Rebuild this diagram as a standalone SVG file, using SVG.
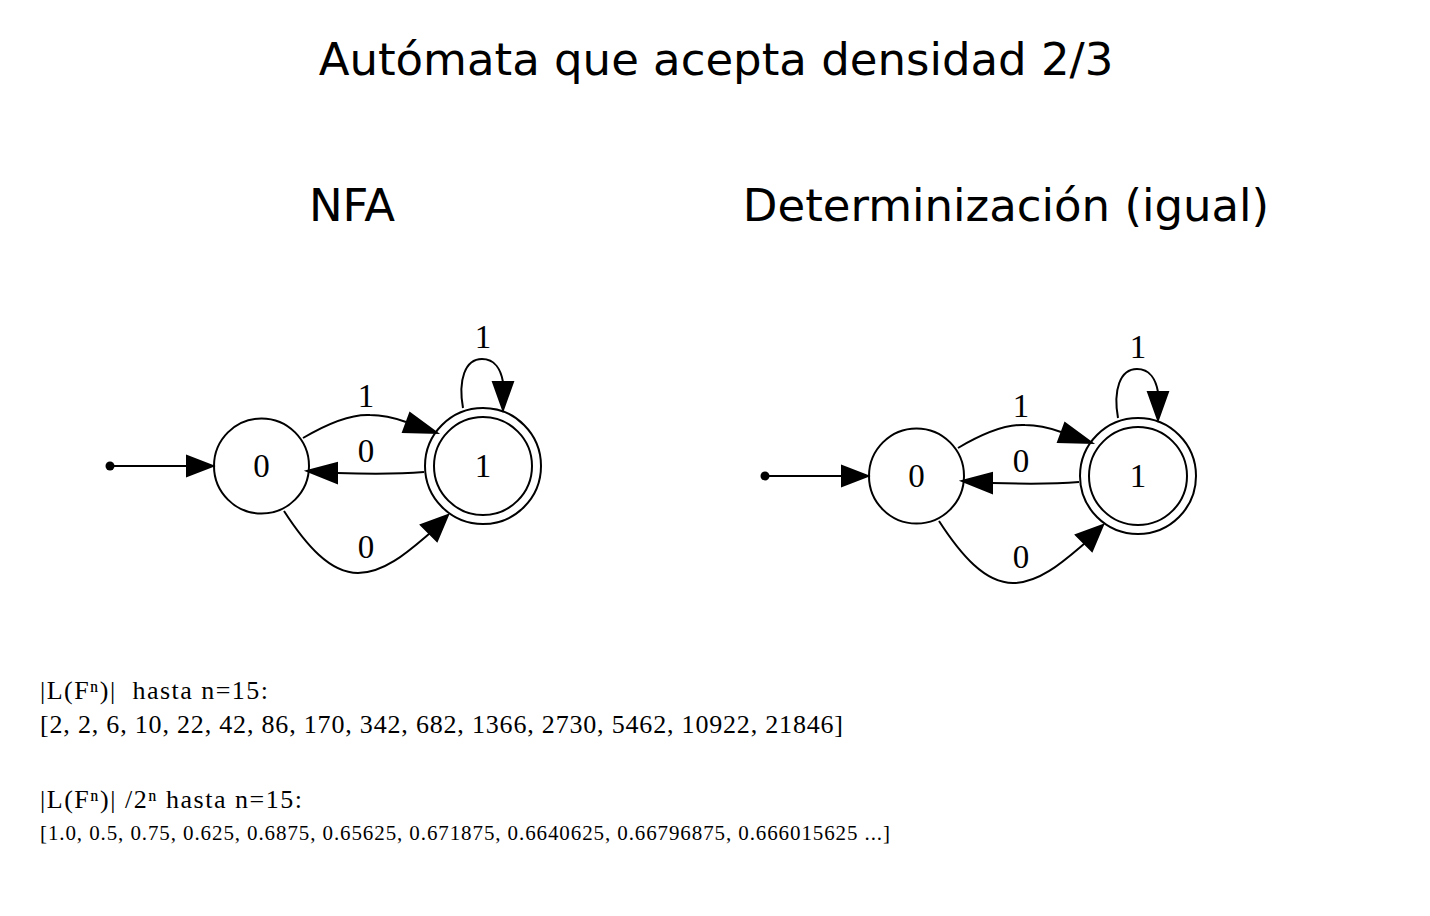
<svg xmlns="http://www.w3.org/2000/svg" width="1430" height="916" viewBox="0 0 1430 916">
<style>
.title{font-family:"DejaVu Sans",sans-serif;font-size:45px;fill:#000;text-anchor:middle}
.node circle{fill:none;stroke:#000;stroke-width:2}
.lbl{font-family:"Liberation Serif",serif;font-size:33px;fill:#000;text-anchor:middle}
.edge path{fill:none;stroke:#000;stroke-width:2}
.edge polygon{fill:#000;stroke:#000;stroke-width:2}
.txt{font-family:"Liberation Serif",serif;fill:#000}
</style>
<rect width="1430" height="916" fill="#fff"/>
<text class="title" x="716" y="75">Autómata que acepta densidad 2/3</text>
<text class="title" x="352" y="221" font-size="44">NFA</text>
<text class="title" x="1006" y="221">Determinización (igual)</text>

<defs>
<g id="automaton">
  <g class="edges">
    <g class="edge" id="e-start">
      <circle cx="110" cy="466" r="4.5" fill="#000"/>
      <path d="M110,466 L187,466"/>
      <polygon points="187,456 213,466 187,476"/>
    </g>
    <g class="edge" id="e-01-1">
      <path d="M303,438 C325,425 350,414 370,415 C385,415 395,418 406,422"/>
      <polygon points="410,413 403,432 437,433"/>
      <text class="lbl" x="366" y="407">1</text>
    </g>
    <g class="edge" id="e-10-0">
      <path d="M424,472 C400,474 370,474 337,473"/>
      <polygon points="337,463 337,483 307,471"/>
      <text class="lbl" x="366" y="462">0</text>
    </g>
    <g class="edge" id="e-01-0">
      <path d="M284,511 C306,545 330,573 358,573 C385,573 410,550 430,533"/>
      <polygon points="421,525 437,541 448,515"/>
      <text class="lbl" x="366" y="558">0</text>
    </g>
    <g class="edge" id="e-11-1">
      <path d="M463,408 C458,380 465,359 482,359 C495,359 501,370 503,382"/>
      <polygon points="493,382 513,382 503,410"/>
      <text class="lbl" x="483" y="348">1</text>
    </g>
  </g>
  <g class="node" id="q0">
    <circle cx="261.5" cy="466" r="47.5"/>
    <text class="lbl" x="261.5" y="477">0</text>
  </g>
  <g class="node" id="q1">
    <circle cx="483" cy="466" r="58"/>
    <circle cx="483" cy="466" r="49"/>
    <text class="lbl" x="483" y="477">1</text>
  </g>
</g>
</defs>

<g id="nfa"><use href="#automaton"/></g>
<g id="dfa" transform="translate(655,10)"><use href="#automaton"/></g>

<g id="stats">
<text class="txt" x="40" y="699" font-size="26" xml:space="preserve" textLength="228">|L(Fⁿ)|  hasta n=15:</text>
<text class="txt" x="40" y="733" font-size="26" textLength="803">[2, 2, 6, 10, 22, 42, 86, 170, 342, 682, 1366, 2730, 5462, 10922, 21846]</text>
<text class="txt" x="40" y="808" font-size="26" textLength="262">|L(Fⁿ)| /2ⁿ hasta n=15:</text>
<text class="txt" x="40" y="840" font-size="21" textLength="850">[1.0, 0.5, 0.75, 0.625, 0.6875, 0.65625, 0.671875, 0.6640625, 0.66796875, 0.666015625 ...]</text>
</g>
</svg>
